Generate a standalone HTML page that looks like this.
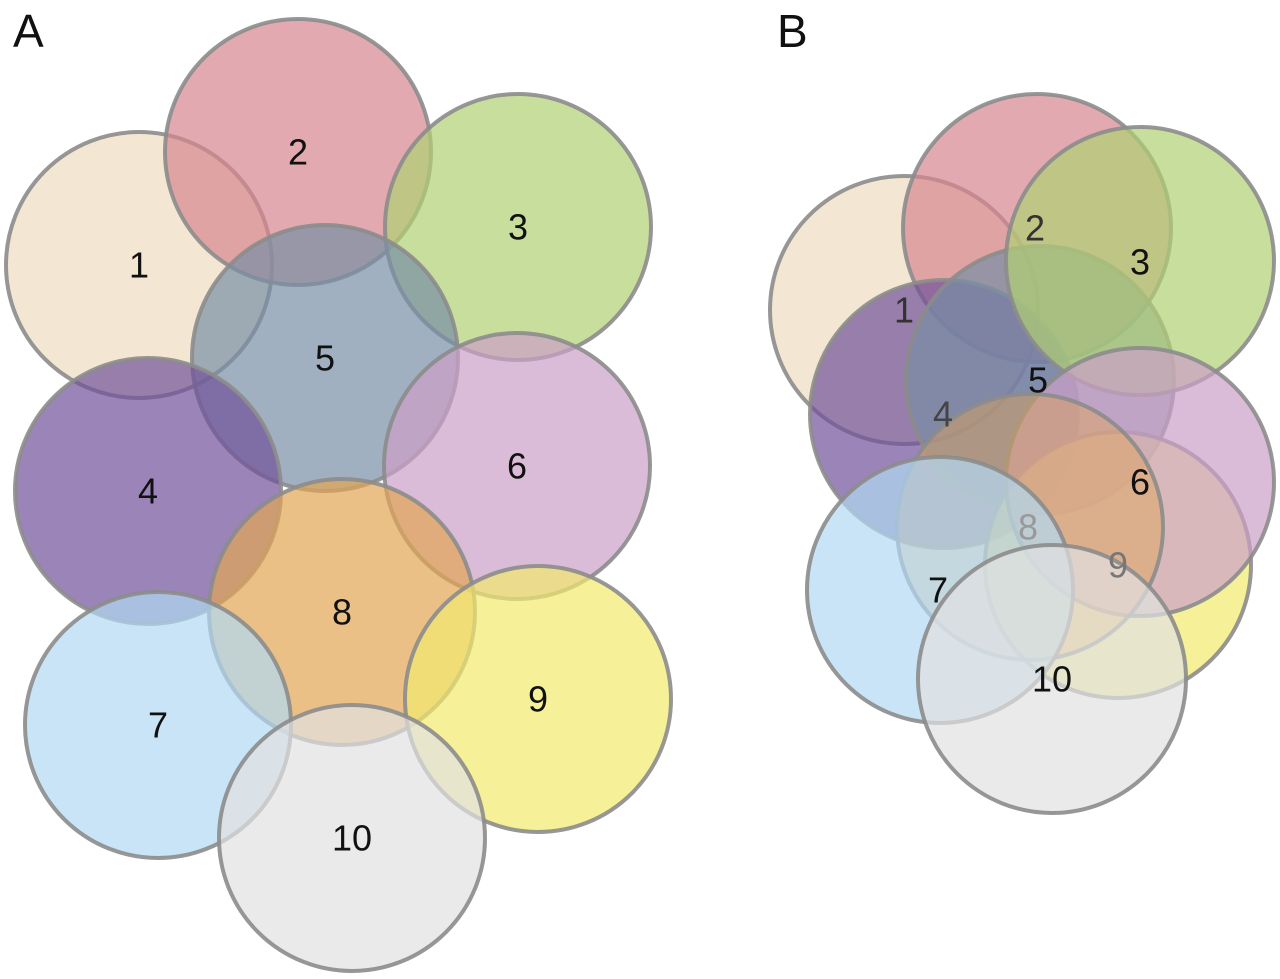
<!DOCTYPE html>
<html><head><style>html,body{margin:0;padding:0;background:#fff}svg{display:block}</style></head><body>
<svg width="1280" height="979" xmlns="http://www.w3.org/2000/svg" font-family="Liberation Sans, DejaVu Sans, sans-serif">
<g stroke="#8c8c8c" stroke-width="4" stroke-opacity="0.9" fill-opacity="0.7">
<circle cx="139" cy="265" r="133" fill="#eedbbf"/>
<circle cx="298" cy="152" r="133" fill="#d6868e"/>
<circle cx="518" cy="227" r="133" fill="#b0d072"/>
<circle cx="325" cy="358" r="133" fill="#778ea5"/>
<circle cx="148" cy="491" r="133" fill="#70519a"/>
<circle cx="517" cy="466" r="133" fill="#cc9fc7"/>
<circle cx="342" cy="612" r="133" fill="#e2a554"/>
<circle cx="158" cy="725" r="133" fill="#b0d8f2"/>
<circle cx="538" cy="699" r="133" fill="#f2ea6d"/>
<circle cx="352" cy="838" r="133" fill="#e1e1e1"/>

<circle cx="904" cy="310" r="134" fill="#eedbbf"/>
<circle cx="1037" cy="228" r="134" fill="#d6868e"/>
<circle cx="944" cy="414" r="134" fill="#70519a"/>
<circle cx="1040" cy="380" r="134" fill="#778ea5"/>
<circle cx="1140" cy="261" r="134" fill="#b0d072"/>
<circle cx="1118" cy="565" r="133" fill="#f2ea6d"/>
<circle cx="1140" cy="482" r="134" fill="#cc9fc7"/>
<circle cx="1030" cy="527" r="133" fill="#e2a554" fill-opacity="0.45"/>
<circle cx="940" cy="590" r="133" fill="#b0d8f2"/>
<circle cx="1052" cy="679" r="134" fill="#e1e1e1"/>
</g>
<g font-size="36" fill="#111" text-anchor="middle" dominant-baseline="central">
<text x="139" y="265">1</text><text x="298" y="152">2</text><text x="518" y="227">3</text>
<text x="325" y="358">5</text><text x="148" y="491">4</text><text x="517" y="466">6</text>
<text x="342" y="612">8</text><text x="158" y="725">7</text><text x="538" y="699">9</text>
<text x="352" y="838">10</text>
<text x="904" y="310" fill="#333">1</text><text x="1035" y="228" fill="#333">2</text><text x="1140" y="262">3</text>
<text x="1038" y="380">5</text><text x="943" y="414" fill="#444">4</text><text x="1140" y="482">6</text>
<text x="1028" y="527" fill="#999">8</text><text x="1118" y="565" fill="#777">9</text><text x="938" y="590">7</text>
<text x="1052" y="679">10</text>
</g>
<g font-size="46" fill="#111">
<text x="13" y="47">A</text><text x="777" y="47">B</text>
</g>
</svg>
</body></html>
